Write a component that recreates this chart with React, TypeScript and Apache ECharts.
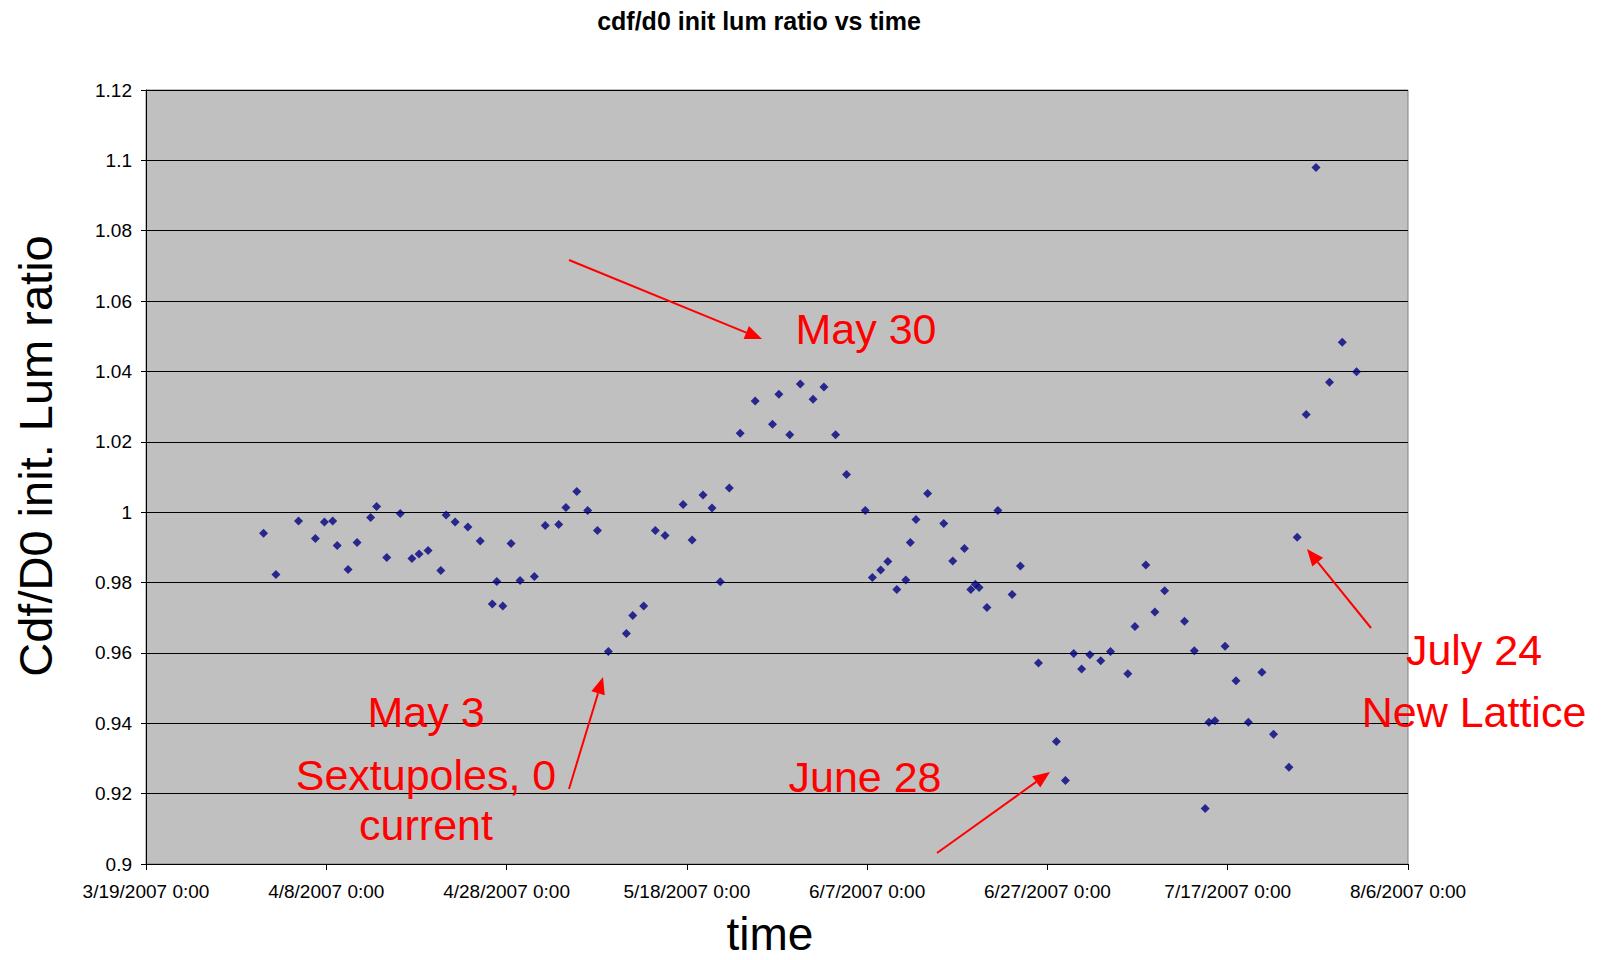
import React, { useEffect, useRef } from "react";
import * as echarts from "echarts";

const BASE_DATE = "2007-03-19 00:00";
const X_TICK_DAYS = 20;
const X_MAX_DAYS = 140;
const Y_MIN = 0.9;
const Y_MAX = 1.12;
const Y_STEP = 0.02;

const chartTitle = "cdf/d0 init lum ratio vs time";
const xAxisTitle = "time";
const yAxisTitle = "Cdf/D0 init. Lum ratio";

const times = [
  "2007-04-01 01:00", "2007-04-02 10:00", "2007-04-04 22:00", "2007-04-06 19:00", "2007-04-07 19:00",
  "2007-04-08 17:00", "2007-04-09 05:00", "2007-04-10 10:00", "2007-04-11 10:00", "2007-04-12 22:00",
  "2007-04-13 14:00", "2007-04-14 17:00", "2007-04-16 05:00", "2007-04-17 12:00", "2007-04-18 07:00",
  "2007-04-19 07:00", "2007-04-20 17:00", "2007-04-21 07:00", "2007-04-22 07:00", "2007-04-23 17:00",
  "2007-04-25 02:00", "2007-04-26 10:00", "2007-04-26 22:00", "2007-04-27 14:00", "2007-04-28 12:00",
  "2007-04-29 12:00", "2007-05-01 02:00", "2007-05-02 07:00", "2007-05-03 19:00", "2007-05-04 14:00",
  "2007-05-05 19:00", "2007-05-07 00:00", "2007-05-08 02:00", "2007-05-09 07:00", "2007-05-11 07:00",
  "2007-05-12 00:00", "2007-05-13 05:00", "2007-05-14 12:00", "2007-05-15 14:00", "2007-05-17 14:00",
  "2007-05-18 14:00", "2007-05-19 19:00", "2007-05-20 19:00", "2007-05-21 17:00", "2007-05-22 17:00",
  "2007-05-23 22:00", "2007-05-25 14:00", "2007-05-27 12:00", "2007-05-28 05:00", "2007-05-29 10:00",
  "2007-05-30 14:00", "2007-06-01 00:00", "2007-06-02 05:00", "2007-06-03 12:00", "2007-06-04 17:00",
  "2007-06-06 19:00", "2007-06-07 14:00", "2007-06-08 12:00", "2007-06-09 07:00", "2007-06-10 07:00",
  "2007-06-11 07:00", "2007-06-11 19:00", "2007-06-12 10:00", "2007-06-13 17:00", "2007-06-15 12:00",
  "2007-06-16 12:00", "2007-06-17 19:00", "2007-06-18 12:00", "2007-06-19 00:00", "2007-06-19 10:00",
  "2007-06-20 07:00", "2007-06-21 12:00", "2007-06-23 02:00", "2007-06-24 00:00", "2007-06-26 00:00",
  "2007-06-28 00:00", "2007-06-29 00:00", "2007-06-29 22:00", "2007-06-30 19:00", "2007-07-01 17:00",
  "2007-07-02 22:00", "2007-07-04 00:00", "2007-07-05 22:00", "2007-07-06 17:00", "2007-07-07 22:00",
  "2007-07-08 22:00", "2007-07-10 00:00", "2007-07-12 05:00", "2007-07-13 07:00", "2007-07-14 12:00",
  "2007-07-14 22:00", "2007-07-15 14:00", "2007-07-16 17:00", "2007-07-17 22:00", "2007-07-19 07:00",
  "2007-07-20 19:00", "2007-07-22 02:00", "2007-07-23 19:00", "2007-07-24 17:00", "2007-07-25 17:00",
  "2007-07-26 19:00", "2007-07-28 07:00", "2007-07-29 17:00", "2007-07-31 07:00",
];

const ratios = [
  0.994, 0.9823, 0.9975, 0.9925, 0.9972,
  0.9975, 0.9905, 0.9837, 0.9914, 0.9985,
  1.0016, 0.9871, 0.9996, 0.9868, 0.9881,
  0.9891, 0.9834, 0.9992, 0.9972, 0.9958,
  0.9918, 0.9739, 0.9803, 0.9733, 0.9911,
  0.9806, 0.9817, 0.9962, 0.9965, 1.0013,
  1.0059, 1.0005, 0.9948, 0.9604, 0.9655,
  0.9706, 0.9733, 0.9948, 0.9934, 1.0022,
  0.9921, 1.0049, 1.0012, 0.9802, 1.0069,
  1.0224, 1.0316, 1.025, 1.0335, 1.022,
  1.0364, 1.0321, 1.0356, 1.022, 1.0107,
  1.0005, 0.9814, 0.9836, 0.986, 0.978,
  0.9807, 0.9914, 0.9979, 1.0053, 0.9968,
  0.9861, 0.9897, 0.978, 0.9795, 0.9786,
  0.9729, 1.0005, 0.9766, 0.9847, 0.9571,
  0.9348, 0.9237, 0.9598, 0.9554, 0.9595,
  0.9578, 0.9604, 0.9541, 0.9675, 0.985,
  0.9716, 0.9777, 0.969, 0.9606, 0.9158,
  0.9403, 0.9407, 0.9619, 0.9521, 0.9403,
  0.9545, 0.9369, 0.9275, 0.9929, 1.0278,
  1.098, 1.0369, 1.0483, 1.0399,
];

const annotationTexts = ["May 30", "May 3", "Sextupoles, 0", "current", "June 28", "July 24", "New Lattice"];

const DAY_MS = 86400000;
function toUTC(s: string): number {
  const [d, t] = s.split(" ");
  const [Y, M, D] = d.split("-").map(Number);
  const [h, m] = t.split(":").map(Number);
  return Date.UTC(Y, M - 1, D, h, m);
}
const baseMs = toUTC(BASE_DATE);

const FONT = '"Liberation Sans", Arial, Helvetica, sans-serif';

function arrow(x1: number, y1: number, x2: number, y2: number) {
  const len = Math.hypot(x2 - x1, y2 - y1);
  const ux = (x2 - x1) / len;
  const uy = (y2 - y1) / len;
  const hl = 17;
  const hw = 7;
  const bx = x2 - ux * hl;
  const by = y2 - uy * hl;
  return [
    {
      type: "line",
      shape: { x1, y1, x2: bx, y2: by },
      style: { stroke: "#FF0000", lineWidth: 2 },
      z: 100,
    },
    {
      type: "polygon",
      shape: {
        points: [
          [x2, y2],
          [bx - uy * hw, by + ux * hw],
          [bx + uy * hw, by - ux * hw],
        ],
      },
      style: { fill: "#FF0000" },
      z: 100,
    },
  ];
}

function redText(text: string, x: number, y: number) {
  return {
    type: "text",
    x,
    y,
    z: 100,
    style: {
      text,
      fill: "#FF0000",
      fontSize: 43,
      fontFamily: FONT,
      align: "center",
      verticalAlign: "middle",
    },
  };
}

export default function App() {
  const ref = useRef<HTMLDivElement>(null);

  useEffect(() => {
    if (!ref.current) return;
    const chart = echarts.init(ref.current, null, { renderer: "svg" });
    const data = times.map((t, i) => [(toUTC(t) - baseMs) / DAY_MS, ratios[i]]);

    const option: any = {
      animation: false,
      backgroundColor: "#FFFFFF",
      title: {
        text: chartTitle,
        left: 754,
        top: 3,
        textAlign: "center",
        textStyle: { fontFamily: FONT, fontSize: 25, fontWeight: "bold", color: "#000" },
      },
      grid: {
        left: 146,
        top: 90,
        width: 1262,
        height: 774,
        show: true,
        backgroundColor: "#C0C0C0",
        borderColor: "#808080",
        borderWidth: 1,
      },
      xAxis: {
        type: "value",
        min: 0,
        max: X_MAX_DAYS,
        interval: X_TICK_DAYS,
        axisLine: { show: true, lineStyle: { color: "#000", width: 1 } },
        axisTick: { show: true, inside: false, length: 6, lineStyle: { color: "#000" } },
        splitLine: { show: false },
        axisLabel: {
          margin: 18,
          fontFamily: FONT,
          fontSize: 19,
          color: "#000",
          showMinLabel: true,
          showMaxLabel: true,
          formatter: (v: number) => {
            const d = new Date(baseMs + v * DAY_MS);
            return `${d.getUTCMonth() + 1}/${d.getUTCDate()}/${d.getUTCFullYear()} 0:00`;
          },
        },
      },
      yAxis: {
        type: "value",
        min: Y_MIN,
        max: Y_MAX,
        interval: Y_STEP,
        axisLine: { show: true, lineStyle: { color: "#000", width: 1 } },
        axisTick: { show: true, inside: false, length: 5, lineStyle: { color: "#000" } },
        splitLine: { show: true, lineStyle: { color: "#000", width: 1 } },
        axisLabel: {
          margin: 14,
          fontFamily: FONT,
          fontSize: 19,
          color: "#000",
          formatter: (v: number) => String(+v.toFixed(2)),
        },
      },
      series: [
        {
          type: "scatter",
          symbol: "diamond",
          symbolSize: 9,
          itemStyle: { color: "#000080" },
          data,
        },
      ],
      graphic: [
        {
          type: "text",
          x: 770,
          y: 934,
          style: {
            text: xAxisTitle,
            fill: "#000",
            fontSize: 46,
            fontFamily: FONT,
            align: "center",
            verticalAlign: "middle",
          },
        },
        {
          type: "text",
          x: 35,
          y: 456,
          rotation: Math.PI / 2,
          style: {
            text: yAxisTitle,
            fill: "#000",
            fontSize: 47,
            fontFamily: FONT,
            align: "center",
            verticalAlign: "middle",
          },
        },
        redText(annotationTexts[0], 866, 329),
        redText(annotationTexts[1], 426, 712),
        redText(annotationTexts[2], 426, 775),
        redText(annotationTexts[3], 426, 825),
        redText(annotationTexts[4], 865, 777),
        redText(annotationTexts[5], 1474, 650),
        redText(annotationTexts[6], 1474, 712),
        ...arrow(569, 260, 762, 339),
        ...arrow(569, 789, 603, 677),
        ...arrow(937, 853, 1050, 772),
        ...arrow(1371, 628, 1307, 549),
      ],
    };
    chart.setOption(option);
    return () => chart.dispose();
  }, []);

  return (
    <div
      ref={ref}
      style={{ position: "absolute", left: 0, top: 0, width: 1603, height: 960 }}
    />
  );
}
